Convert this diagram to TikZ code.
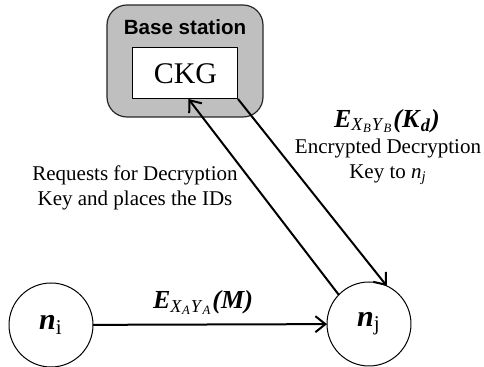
\documentclass[tikz,border=0pt]{standalone}
\usepackage{fontspec}
\setmainfont{Liberation Serif}
\newfontfamily\headfont{Liberation Sans}
\usetikzlibrary{arrows.meta}

\newcommand{\bi}[1]{\textbf{\textit{#1}}}

\begin{document}
\begin{tikzpicture}[x=0.5pt,y=-0.5pt,join=round,
    peer/.style={draw,circle,minimum size=42pt,inner sep=0pt,outer sep=0pt,line width=0.5pt,font=\fontsize{15}{16}\selectfont},
    msg/.style={line width=1pt,-{Straight Barb[length=5pt,width=8pt,line width=1pt]}},
    note/.style={align=center,font=\fontsize{10.5}{12.5}\selectfont,inner sep=0pt}]
  \useasboundingbox (0,0) rectangle (484,367);
  % Base station with the key generator
  \node[draw=black!85,fill=black!25,rounded corners=10pt,minimum width=78pt,minimum height=56pt,line width=0.6pt] (bs) at (185,61) {};
  \node[font=\headfont\bfseries\fontsize{10.3}{11}\selectfont] (bstitle) at (185,27) {Base station};
  \node[draw,fill=white,minimum width=52.5pt,minimum height=25.5pt,inner sep=0pt,outer sep=0pt,line width=0.5pt,font=\fontsize{15}{16}\selectfont] (ckg) at (185.5,73.5) {CKG};
  % Nodes
  \node[peer] (ni) at (51,325) {\bi{n}\textsubscript{i}};
  \node[peer] (nj) at (369,324) {\bi{n}\textsubscript{j}};
  % Messages
  \draw[msg] (ni) -- (nj) node[pos=0.47,above=1pt,font=\fontsize{13}{14}\selectfont] (mlabel)
    {\bi{E}\textsubscript{\textit{X}\textsubscript{\textit{A}}\textit{Y}\textsubscript{\textit{A}}}\bi{(M)}};
  \draw[msg] (nj.136) -- ([xshift=1.5pt]ckg.south);
  \draw[msg] (ckg.south east) -- (nj.65);
  % Labels
  \node[note] (req) at (135,188) {Requests for Decryption\\Key and places the IDs};
  \node[font=\fontsize{13}{14}\selectfont] (klabel) at (387,121)
    {\bi{E}\textsubscript{\textit{X}\textsubscript{\textit{B}}\textit{Y}\textsubscript{\textit{B}}}\bi{(K}\textsubscript{\bi{d}}\bi{)}};
  \node[note] (enc) at (388,162) {Encrypted Decryption\\Key to \textit{n}\textsubscript{\textit{j}}};
\end{tikzpicture}
\end{document}
